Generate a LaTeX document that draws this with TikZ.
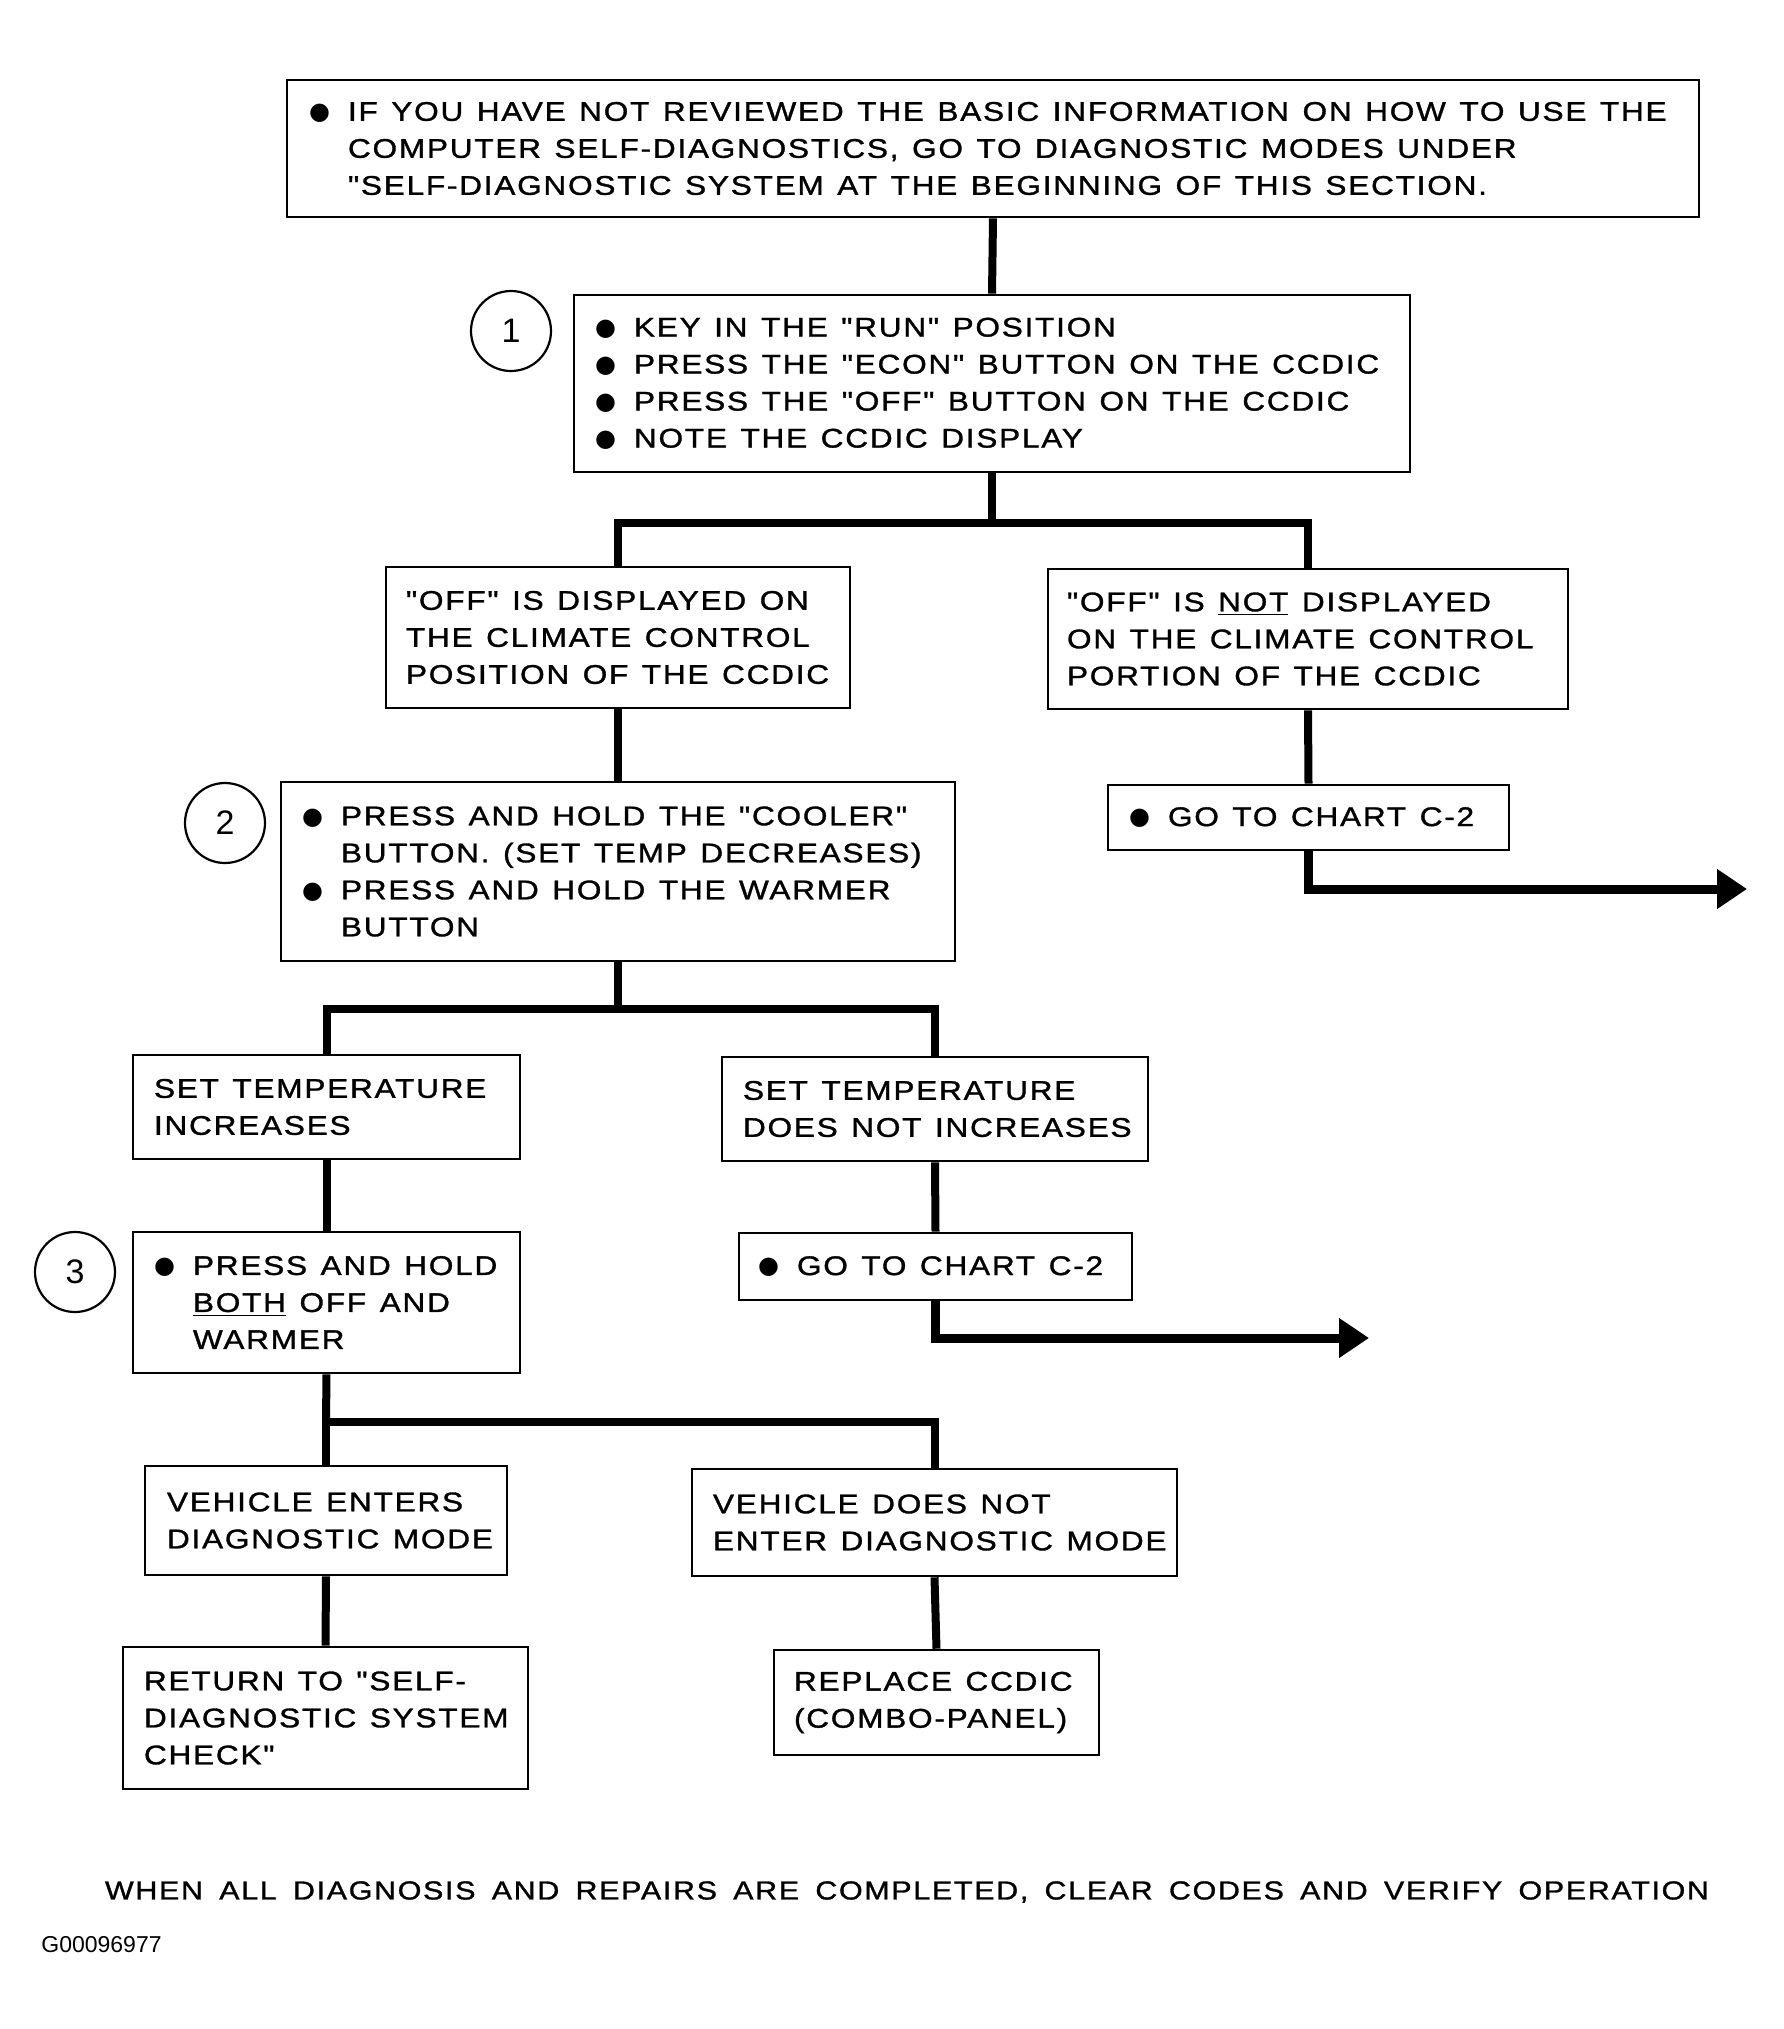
\documentclass[tikz,border=0pt]{standalone}
\usepackage{fontspec}
\usetikzlibrary{arrows.meta}
\newfontfamily\chartfont{Liberation Sans}[FakeStretch=1.17,LetterSpace=6.5,WordSpace=1.6,FakeBold=1.2]
\newfontfamily\dotfont{DejaVu Sans}
\newfontfamily\idfont{Liberation Sans}
\newlength\bulw \setlength\bulw{19.5pt}
\newcommand{\bul}{\makebox[\bulw][l]{\raisebox{0.6pt}{\dotfont\fontsize{12}{12}\selectfont ●}}}
\newcommand{\ind}{\hspace*{\bulw}}

\begin{document}
\begin{tikzpicture}[x=0.5pt,y=-0.5pt,
    chartbox/.style={draw, rectangle, line width=1.3pt, align=left, inner ysep=0pt, inner xsep=0pt,
        font=\chartfont\fontsize{13.5}{18.5}\selectfont},
    lpad/.style={execute at begin node={\leftskip=#1\spaceskip=0.5em\relax}},
    num/.style={draw, circle, line width=1.1pt, minimum size=40pt, inner sep=0pt,
        font=\idfont\fontsize{17}{17}\selectfont},
    link/.style={line width=4pt},
    golink/.style={line width=4.5pt, -{Triangle[length=15pt,width=19pt]}}]
    \useasboundingbox (0,0) rectangle (1783,2029);

    \node[chartbox, lpad=11pt, text width=706pt, minimum height=68.5pt] (intro) at (993,148.5)
        {\bul IF YOU HAVE NOT REVIEWED THE BASIC INFORMATION ON HOW TO USE THE\\
         \ind COMPUTER SELF-DIAGNOSTICS, GO TO DIAGNOSTIC MODES UNDER\\
         \ind "SELF-DIAGNOSTIC SYSTEM AT THE BEGINNING OF THIS SECTION.};
    \node[chartbox, lpad=10.5pt, text width=418pt, minimum height=88.5pt] (keyrun) at (992,383.5)
        {\bul KEY IN THE "RUN" POSITION\\
         \bul PRESS THE "ECON" BUTTON ON THE CCDIC\\
         \bul PRESS THE "OFF" BUTTON ON THE CCDIC\\
         \bul NOTE THE CCDIC DISPLAY};
    \node[chartbox, lpad=10pt, text width=232pt, minimum height=70.5pt] (offshown) at (618,637.5)
        {"OFF" IS DISPLAYED ON\\ THE CLIMATE CONTROL\\ POSITION OF THE CCDIC};
    \node[chartbox, lpad=9.5pt, text width=260pt, minimum height=70pt] (offnot) at (1308,639)
        {"OFF" IS \underline{NOT} DISPLAYED\\ ON THE CLIMATE CONTROL\\ PORTION OF THE CCDIC};
    \node[chartbox, lpad=10.5pt, text width=337pt, minimum height=89.5pt] (presshold) at (618,871.5)
        {\bul PRESS AND HOLD THE "COOLER"\\
         \ind BUTTON. (SET TEMP DECREASES)\\
         \bul PRESS AND HOLD THE WARMER\\
         \ind BUTTON};
    \node[chartbox, lpad=10.5pt, text width=200.5pt, minimum height=32.5pt] (chartA) at (1308.5,817.5)
        {\bul GO TO CHART C-2};
    \node[chartbox, lpad=10.5pt, text width=193.5pt, minimum height=52pt] (tempup) at (326.5,1107)
        {SET TEMPERATURE\\ INCREASES};
    \node[chartbox, lpad=10.5pt, text width=213pt, minimum height=52pt] (tempnot) at (935,1109)
        {SET TEMPERATURE\\ DOES NOT INCREASES};
    \node[chartbox, lpad=10.5pt, text width=193.5pt, minimum height=70.5pt] (pressboth) at (326.5,1302.5)
        {\bul PRESS AND HOLD\\
         \ind \underline{BOTH} OFF AND\\
         \ind WARMER};
    \node[chartbox, lpad=9.5pt, text width=196.5pt, minimum height=33.5pt] (chartB) at (935.5,1266.5)
        {\bul GO TO CHART C-2};
    \node[chartbox, lpad=11pt, text width=181pt, minimum height=54.5pt] (diagyes) at (326,1520.5)
        {VEHICLE ENTERS\\ DIAGNOSTIC MODE};
    \node[chartbox, lpad=10.5pt, text width=242.5pt, minimum height=53.5pt] (diagno) at (934.5,1522.5)
        {VEHICLE DOES NOT\\ ENTER DIAGNOSTIC MODE};
    \node[chartbox, lpad=10.5pt, text width=202.5pt, minimum height=71pt] (returnchk) at (325.5,1718)
        {RETURN TO "SELF-\\ DIAGNOSTIC SYSTEM\\ CHECK"};
    \node[chartbox, lpad=10pt, text width=162.5pt, minimum height=52.5pt] (replace) at (936.5,1702.5)
        {REPLACE CCDIC\\ (COMBO-PANEL)};

    \node[num] (step1) at (511,331) {1};
    \node[num] (step2) at (225,823) {2};
    \node[num] (step3) at (75,1272) {3};

    \coordinate (j1) at (992,523);
    \coordinate (j2) at (618,1009);
    \coordinate (j3) at (326,1422);
    \coordinate (endA) at (1747,889);
    \coordinate (endB) at (1369,1338);

    \draw[link] (intro.south) -- (keyrun.north);
    \draw[link] (keyrun.south) -- (j1);
    \draw[link] (offshown.north) |- (j1) -| (offnot.north);
    \draw[link] (offshown.south) -- (presshold.north);
    \draw[link] (offnot.south) -- (chartA.north);
    \draw[golink] (chartA.south) |- (endA);
    \draw[link] (presshold.south) -- (j2);
    \draw[link] (tempup.north) |- (j2) -| (tempnot.north);
    \draw[link] (tempup.south) -- (pressboth.north);
    \draw[link] (tempnot.south) -- (chartB.north);
    \draw[golink] (chartB.south) |- (endB);
    \draw[link] (pressboth.south) -- (j3);
    \draw[link] (diagyes.north) |- (j3) -| (diagno.north);
    \draw[link] (diagyes.south) -- (returnchk.north);
    \draw[link] (diagno.south) -- (replace.north);

    \node[font=\chartfont\fontsize{13}{15}\selectfont] (footer) at (907,1892)
        {WHEN ALL DIAGNOSIS AND REPAIRS ARE COMPLETED, CLEAR CODES AND VERIFY OPERATION};
    \node[anchor=west, inner sep=0pt, font=\idfont\fontsize{11.5}{12}\selectfont] (figid) at (41,1945) {G00096977};
\end{tikzpicture}
\end{document}
